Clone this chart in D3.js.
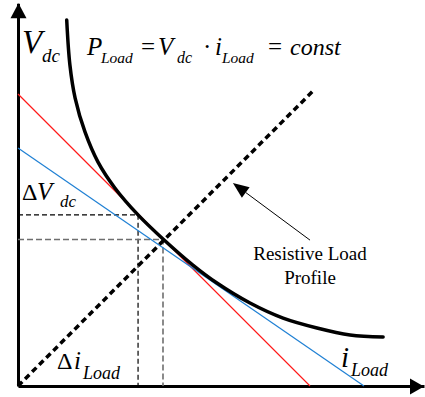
<!DOCTYPE html>
<html>
<head>
<meta charset="utf-8">
<script src="https://cdn.jsdelivr.net/npm/d3@7"></script>
<style>
  html, body { margin: 0; padding: 0; background: #fff; }
  svg { display: block; }
</style>
</head>
<body>
<svg id="chart" width="425" height="397"></svg>
<script>
// Constant-power load curve P = V·i, sampled as (current, voltage) pairs
const loadCurrent = [1.68, 1.79, 1.97, 2.31, 2.76, 3.34, 4.14, 5.00, 6.03, 6.86, 8.00, 9.14, 10.31, 11.45, 12.59];
const loadVoltage = [12.62, 11.07, 9.93, 8.76, 7.72, 6.83, 5.90, 5.07, 4.17, 3.55, 2.86, 2.34, 2.00, 1.76, 1.69];

// Source characteristics as straight lines: [voltage intercept, current intercept]
const redSource = [10.07, 10.07];
const blueSource = [8.21, 11.93];

// Resistive load line from the origin to its end point [i, V]
const resistiveEnd = [10.15, 10.15];

// Operating points [i, V]
const operatingPoint = [5.00, 5.05];
const shiftedPoint = [4.14, 5.90];

// Annotation arrow [i, V]
const arrowTail = [10.07, 5.03];
const arrowTip = [7.41, 7.00];

const SERIF = "Liberation Serif, DejaVu Serif, Noto Serif, Times New Roman, serif";

const svg = d3.select("#chart");

const x = d3.scaleLinear().domain([0, 14]).range([18, 424]);
const y = d3.scaleLinear().domain([0, 13.2]).range([386, 3.2]);

// Axes (no ticks, just the spines)
svg.append("g")
  .attr("transform", `translate(0,${y(0)})`)
  .call(d3.axisBottom(x).tickValues([]).tickSizeOuter(0))
  .call(g => g.select(".domain").attr("stroke", "#000").attr("stroke-width", 3));
svg.append("g")
  .attr("transform", `translate(${x(0)},0)`)
  .call(d3.axisLeft(y).tickValues([]).tickSizeOuter(0))
  .call(g => g.select(".domain").attr("stroke", "#000").attr("stroke-width", 3));

// Arrowhead triangle pointing from tail to tip
function arrowHead(tip, tail, len, half) {
  const [tx, ty] = tip, [sx, sy] = tail;
  const d = Math.hypot(tx - sx, ty - sy);
  const ux = (tx - sx) / d, uy = (ty - sy) / d;
  const bx = tx - ux * len, by = ty - uy * len;
  return [[tx, ty], [bx - uy * half, by + ux * half], [bx + uy * half, by - ux * half]];
}
const pathOf = d3.line();
svg.append("path")
  .attr("d", pathOf(arrowHead([x(0) + 0.5, y(13.2)], [x(0) + 0.5, y(0)], 15, 8)) + "Z")
  .attr("fill", "#000");
svg.append("path")
  .attr("d", pathOf(arrowHead([x(14), y(0) + 0.5], [x(0), y(0) + 0.5], 14, 8)) + "Z")
  .attr("fill", "#000");

// Guide lines to the operating points
function guide(pt, color, width, dash) {
  svg.append("path")
    .attr("d", pathOf([[x(0), y(pt[1])], [x(pt[0]), y(pt[1])], [x(pt[0]), y(0)]]))
    .attr("fill", "none")
    .attr("stroke", color)
    .attr("stroke-width", width)
    .attr("stroke-dasharray", dash);
}
guide(shiftedPoint, "#000", 1.2, "5,3");
guide(operatingPoint, "#6e6e6e", 1.6, "6,3");

// Source lines
function sourceLine(s, color) {
  svg.append("line")
    .attr("x1", x(0)).attr("y1", y(s[0]))
    .attr("x2", x(s[1])).attr("y2", y(0))
    .attr("stroke", color)
    .attr("stroke-width", 1.2);
}
sourceLine(redSource, "#ff1a1a");
sourceLine(blueSource, "#1f80d4");

// Resistive load line
svg.append("line")
  .attr("x1", x(0)).attr("y1", y(0))
  .attr("x2", x(resistiveEnd[0])).attr("y2", y(resistiveEnd[1]))
  .attr("stroke", "#000")
  .attr("stroke-width", 3.5)
  .attr("stroke-dasharray", "6,4");

// Constant-power curve
const curve = d3.line()
  .x(d => x(d[0]))
  .y(d => y(d[1]))
  .curve(d3.curveCatmullRom.alpha(0.5));
svg.append("path")
  .datum(d3.zip(loadCurrent, loadVoltage))
  .attr("d", curve)
  .attr("fill", "none")
  .attr("stroke", "#000")
  .attr("stroke-width", 3.5)
  .attr("stroke-linecap", "round");

// Annotation arrow
const tipPx = [x(arrowTip[0]), y(arrowTip[1])];
const tailPx = [x(arrowTail[0]), y(arrowTail[1])];
const head = arrowHead(tipPx, tailPx, 16, 6.5);
svg.append("line")
  .attr("x1", tailPx[0]).attr("y1", tailPx[1])
  .attr("x2", (head[1][0] + head[2][0]) / 2).attr("y2", (head[1][1] + head[2][1]) / 2)
  .attr("stroke", "#000").attr("stroke-width", 1);
svg.append("path").attr("d", pathOf(head) + "Z").attr("fill", "#000");

// Text pieces placed one by one (main symbols and their subscripts)
function write(parts) {
  parts.forEach(p => {
    svg.append("text")
      .attr("x", p.x).attr("y", p.y)
      .style("font-family", SERIF)
      .style("font-size", p.size + "px")
      .style("font-style", p.italic ? "italic" : "normal")
      .attr("fill", "#000")
      .text(p.t);
  });
}

// Axis labels
write([
  { t: "V", x: 22, y: 53, size: 33, italic: true },
  { t: "dc", x: 42, y: 62, size: 19, italic: true }
]);
write([
  { t: "i", x: 341, y: 367, size: 29, italic: true },
  { t: "Load", x: 351, y: 376, size: 18, italic: true }
]);

// Power equation
write([
  { t: "P", x: 87, y: 55, size: 25, italic: true },
  { t: "Load", x: 101, y: 63, size: 15.5, italic: true },
  { t: "=", x: 141, y: 55, size: 25, italic: false },
  { t: "V", x: 158, y: 55, size: 25, italic: true },
  { t: "dc", x: 177, y: 63, size: 16, italic: true },
  { t: "·", x: 203, y: 55, size: 25, italic: false },
  { t: "i", x: 215, y: 55, size: 25, italic: true },
  { t: "Load", x: 222, y: 63, size: 15.5, italic: true },
  { t: "=", x: 268, y: 55, size: 25, italic: false },
  { t: "const", x: 290, y: 55, size: 24, italic: true }
]);

// Deltas
write([
  { t: "Δ", x: 22, y: 200, size: 24, italic: false },
  { t: "V", x: 37, y: 200, size: 25, italic: true },
  { t: "dc", x: 60, y: 207, size: 17, italic: true }
]);
write([
  { t: "Δ", x: 57, y: 369, size: 24, italic: false },
  { t: "i", x: 74, y: 369, size: 25, italic: true },
  { t: "Load", x: 83, y: 379, size: 18, italic: true }
]);

// Resistive load annotation
svg.append("text")
  .attr("x", 310).attr("y", 260)
  .style("font-family", SERIF)
  .style("font-size", "19px")
  .attr("fill", "#000")
  .attr("text-anchor", "middle")
  .selectAll("tspan")
  .data(["Resistive Load", "Profile"])
  .join("tspan")
  .attr("x", 310)
  .attr("dy", (d, i) => i === 0 ? 0 : 24)
  .text(d => d);
</script>
</body>
</html>
